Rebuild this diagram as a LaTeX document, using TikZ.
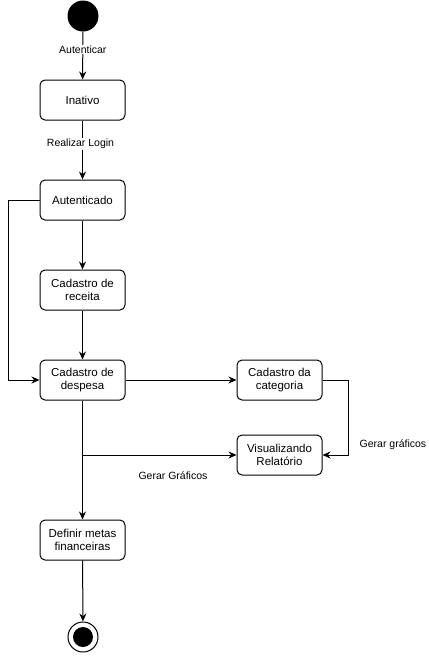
\documentclass[tikz,border=0pt]{standalone}
\usepackage{fontspec}
\setmainfont{Liberation Sans}
\usetikzlibrary{arrows.meta}
\usetikzlibrary{positioning}

\tikzset{
  estado/.style={draw,rounded corners=5pt,line width=1pt,minimum width=85pt,minimum height=40pt,align=center,font=\fontsize{11.5}{13.5}\selectfont,inner sep=0pt},
  seta/.style={line width=1pt,-{Stealth[length=8pt,width=7pt]}},
  rotulo/.style={font=\fontsize{10.5}{12}\selectfont,fill=white,inner sep=1pt}
}

\begin{document}
\begin{tikzpicture}[x=1pt,y=-1pt]
\useasboundingbox (0,0) rectangle (429,657);

% inicio e fim
\node[circle,fill=black,minimum size=31pt,inner sep=0pt] (inicio) at (83,16) {};
\node[circle,draw,line width=1pt,minimum size=30pt,inner sep=0pt] (fim) at (83,637) {};
\fill (fim.center) circle (10);

% estados
\node[estado] (inativo) at (82.5,100) {Inativo};
\node[estado] (autenticado) at (82.5,200) {Autenticado};
\node[estado] (receita) at (82.5,290) {Cadastro de\\receita};
\node[estado] (despesa) at (82.5,380) {Cadastro de\\despesa};
\node[estado] (categoria) at (279.5,380) {Cadastro da\\categoria};
\node[estado] (relatorio) at (279.5,455) {Visualizando\\Relatório};
\node[estado] (metas) at (82.5,540) {Definir metas\\financeiras};

% transicoes
\draw[seta] (inicio) -- node[rotulo,pos=0.37] {Autenticar} (inativo);
\draw[seta] (inativo) -- node[rotulo,pos=0.4,xshift=-2pt] {Realizar Login} (autenticado);
\draw[seta] (autenticado) -- (receita);
\draw[seta] (receita) -- (despesa);
\draw[seta] (autenticado.west) -- (8,200) -- (8,380) -- (despesa.west);
\draw[seta] (despesa) -- (categoria);
\draw[seta] (categoria.east) -- (348,380) -- (348,455) -- (relatorio.east);
\node[rotulo] (lblgraf) at (393,445) {Gerar gráficos};
\draw[seta] (despesa) -- (metas);
\coordinate (ramo) at (82.5,455);
\draw[seta] (ramo) -- (relatorio.west);
\node[rotulo] (lblGraf) at (173,476) {Gerar Gráficos};
\draw[seta] (metas) -- (fim);

\end{tikzpicture}
\end{document}
